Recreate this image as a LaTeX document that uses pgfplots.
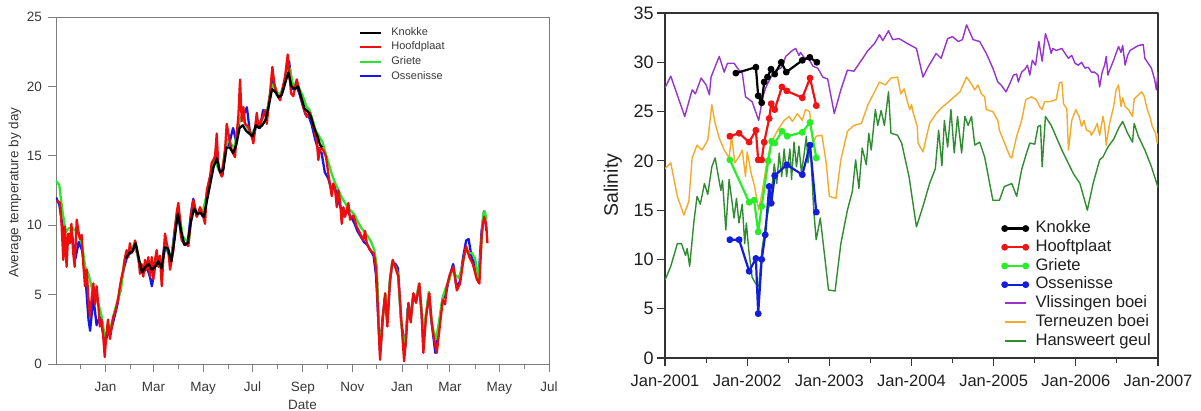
\documentclass[border=0pt]{standalone}
\usepackage{fontspec}
\setmainfont{Liberation Sans}
\usepackage{pgfplots}
\pgfplotsset{compat=1.18}

% colours of the temperature panel
\definecolor{tred}{RGB}{238,12,12}
\definecolor{tgreen}{RGB}{45,228,45}
\definecolor{tblue}{RGB}{22,22,232}
% colours of the salinity panel
\definecolor{sred}{RGB}{240,20,20}
\definecolor{sgreen}{RGB}{40,238,40}
\definecolor{sblue}{RGB}{18,30,220}
\definecolor{vpurple}{RGB}{150,52,205}
\definecolor{torange}{RGB}{244,170,42}
\definecolor{hgreen}{RGB}{48,140,48}
\definecolor{framegray}{RGB}{125,125,125}

% daily mean water temperature, day 0 = 1 November
\pgfplotstableread{
d v
1 11.8
5 11.6
7 9.9
9 7.5
11 9.9
13 7.0
15 9.4
17 8.7
19 10.1
21 8.1
23 7.0
25.5 10.4
27.5 9.6
29.5 9.0
31.6 9.3
33.6 7.2
35.7 5.6
37.8 6.8
39.8 4.8
41.9 3.4
44 4.8
46 5.8
48 4.3
50 5.6
52 4.3
54 2.7
56 3.2
58 2.1
60 0.5
62 2.1
64 3.2
66.5 1.8
68.6 2.7
70.6 3.4
72.7 3.7
74.8 4.2
76.7 4.8
78.8 5.6
80.9 6.3
82.9 6.8
85 7.7
87 8.2
89 7.7
91 8.7
93 8.0
95 8.2
97.3 8.9
99.4 8.4
101.4 7.7
103.4 6.5
105.5 7.2
107.5 6.3
109.6 7.5
111.7 6.8
113.7 7.7
115.8 6.3
117.9 7.7
119.8 6.1
121.9 7.5
124 8.2
126 7.0
128 7.8
130.2 5.6
132.1 7.5
134.2 9.4
136.3 8.7
138.3 8.2
140.4 6.8
142.5 7.5
144.5 8.2
146.5 9.7
148.6 10.9
150.6 11.6
152.7 10.4
154.8 8.9
158.9 8.7
163 8.5
167.1 11.1
169.1 11.8
173.3 10.6
177.3 11.3
181.4 10.6
183.5 10.1
185.6 12.5
189.7 13.5
191.7 14.5
195.8 14.9
197.9 16.6
199.9 14.2
204 13.5
208.1 15.4
210.2 17.3
214.3 15.9
216.4 15.4
220.4 14.9
222.5 16.6
224.5 17.8
226.6 20.5
228.7 17.5
230.7 18.5
232.8 17.3
236.8 17.1
241 16.4
243 15.9
247.2 18.1
249.1 17.1
253.3 17.6
257.4 18.3
259.5 17.3
263.5 19.5
266.4 21.4
268.8 20.2
271.8 19.5
275.9 19.0
278.7 19.8
282 20.7
285.3 22.3
286.9 21.2
289.4 19.5
292.2 19.3
296.4 20.5
300.5 19.5
304.6 18.5
308.7 17.8
312.8 18.1
316.9 17.1
321 16.1
323 14.7
325.1 15.6
329.2 15.4
332.5 14.9
335.3 13.7
339.5 12.1
341.5 13.0
343.6 12.6
345.7 11.3
347.7 12.5
349.8 11.7
351.8 10.1
353.8 11.3
355.9 10.6
360 11.6
362 10.4
366.1 10.7
370.3 9.9
374.4 9.4
378.4 8.9
380.5 9.6
382.6 8.7
386.7 8.2
390.8 8.0
392.8 7.5
394.9 6.1
396.9 3.0
399 0.3
402.3 3.2
405.2 5.1
408 2.7
411.3 6.1
414.6 7.5
417.5 7.0
421.5 6.3
425.7 2.7
428.6 0.2
431 1.8
433.9 4.4
436.8 3.0
440 5.1
443.3 4.4
447.4 5.8
450.4 3.4
452.3 0.8
455.6 3.4
459.7 5.1
462.7 2.9
465.5 1.8
468.8 0.8
472.9 2.9
476.2 4.6
479 4.3
481.2 5.6
485.2 6.5
489.3 7.0
493.5 5.3
497.5 5.8
501.6 7.5
504.9 8.5
509 7.7
513.2 7.2
518.1 6.1
521.3 5.8
524.3 9.4
527.1 10.6
529.6 10.1
531.2 8.7
}\hoofdplaat

\pgfplotstableread{
d v
0 13.2
4 12.9
8 11.0
12 9.5
16 9.8
20 9.8
24 9.6
28 9.3
32 8.6
36 7.0
40 6.5
44 5.5
48 5.0
52 4.4
56 3.5
60 2.0
64 2.4
68 2.8
72 3.8
76 4.6
80 5.3
84 7.4
88 8.0
92 8.2
96 8.6
100 8.0
104 7.0
108 7.0
112 7.1
116 6.9
120 7.0
124 7.6
128 7.4
132 7.6
136 8.7
140 7.6
144 8.3
148 10.5
152 10.8
156 9.2
160 8.9
164 9.0
168 11.4
172 10.9
176 11.0
180 10.8
184 11.8
188 12.6
192 14.2
196 14.8
200 14.0
204 13.8
208 15.3
212 16.2
216 15.8
220 15.6
224 17.2
228 17.8
232 17.4
236 17.0
240 16.6
244 16.8
248 17.6
252 17.4
256 17.9
260 18.2
264 19.6
268 20.2
272 19.6
276 19.4
280 20.0
284 21.0
288 21.3
292 20.0
296 20.3
300 19.8
304 19.3
308 18.6
312 18.3
316 17.6
320 16.8
324 16.4
328 16.0
332 15.2
336 14.4
340 13.6
344 13.0
348 12.5
352 12.0
356 11.6
360 11.2
364 11.0
368 10.7
372 10.2
376 9.8
380 9.5
384 9.2
388 8.8
392 8.2
395 7.0
398 2.0
400 1.5
403 3.6
406 5.0
408 3.4
411 6.0
414 7.4
418 7.0
421 6.5
425 3.0
428 1.4
431 2.2
434 4.4
437 3.3
440 5.0
443 4.6
447 5.8
450 4.0
452 2.2
455 3.4
459 5.2
462 3.3
465 2.3
468 1.8
472 3.2
476 4.8
480 5.5
484 6.0
488 6.8
492 6.4
496 6.2
500 7.0
504 8.2
508 8.0
512 8.0
516 7.6
520 6.2
523 8.0
526 10.8
528 11.0
530 10.4
}\griete

\pgfplotstableread{
d v
0 12.0
4 11.5
8 10.0
12 8.6
16 8.8
20 9.2
24 7.6
28 8.8
32 8.2
36 6.5
40 3.2
42 2.4
46 4.8
50 2.8
54 3.4
58 2.2
60 1.5
64 2.2
68 2.5
72 3.4
76 4.4
80 5.8
84 7.0
88 7.8
92 8.0
96 8.5
100 8.0
104 6.8
108 6.6
112 7.0
116 6.2
118 5.6
122 7.0
126 7.4
130 7.0
134 8.8
138 8.0
142 7.6
146 9.6
150 11.2
154 9.2
158 8.6
162 8.6
166 10.8
169 11.9
173 10.7
177 11.0
181 10.6
185 12.0
189 13.3
193 14.2
197 15.4
201 14.0
205 13.6
209 15.8
213 15.8
218 17.0
222 16.0
226 17.6
230 17.8
235 18.5
239 16.6
243 16.2
247 17.4
251 17.0
255 18.3
259 17.8
263 19.2
267 20.4
271 19.6
275 19.2
279 19.6
283 20.6
287 21.8
291 19.8
295 20.2
299 19.6
303 18.8
307 18.0
311 17.9
315 17.2
319 16.2
323 15.4
327 15.2
331 13.8
335 13.4
339 12.6
343 12.8
347 11.8
351 11.2
355 10.8
359 11.0
363 10.6
367 10.2
371 9.6
375 9.2
379 8.8
383 8.6
387 8.2
391 7.8
394 6.4
397 3.0
399 0.8
402 3.3
405 4.8
408 3.0
411 5.8
414 7.3
418 7.2
421 6.9
425 3.0
430 1.2
433 4.0
436 3.2
440 5.0
443 4.5
447 5.6
450 3.8
452 1.6
456 3.6
459 5.0
462 3.2
465 1.8
467 0.8
472 3.0
476 4.7
480 5.0
484 6.2
489 7.2
493 5.6
497 5.9
501 7.6
505 8.9
508 9.0
512 7.6
516 7.2
520 5.9
524 9.6
527 11.0
530 9.6
}\ossenisse

\pgfplotstableread{
d v
86 7.6
90 8.0
94 8.1
98 8.7
102 7.6
106 6.6
110 7.0
114 7.2
118 6.8
122 7.0
126 7.4
130 6.9
134 8.4
138 8.3
142 7.4
146 9.0
150 10.8
154 9.6
158 8.6
162 8.7
166 10.2
170 11.2
174 10.8
178 10.9
182 10.6
186 11.8
190 13.0
194 14.2
198 14.8
202 13.8
206 14.0
210 15.6
214 15.6
218 15.2
222 15.8
226 17.0
230 17.2
234 16.8
238 16.6
242 16.4
246 17.2
250 17.0
254 17.2
258 17.6
262 18.6
266 19.8
270 19.6
274 19.2
278 19.4
282 20.2
286 21.0
290 20.0
294 19.8
298 20.0
302 19.2
306 18.4
310 18.2
314 17.8
318 17.0
322 16.4
325 15.8
328 15.6
}\knokke

% salinity, time in decimal years
\pgfplotstableread{
t s
2001.00 27.4
2001.07 28.6
2001.24 24.5
2001.33 27.2
2001.37 26.8
2001.44 28.4
2001.50 27.7
2001.54 26.7
2001.56 28.5
2001.66 30.6
2001.72 29.0
2001.76 29.9
2001.84 29.9
2001.90 29.2
2001.94 28.9
2001.98 26.5
2002.06 26.0
2002.14 24.1
2002.19 26.5
2002.23 27.5
2002.29 28.5
2002.35 29.2
2002.41 29.4
2002.47 30.6
2002.55 31.2
2002.59 31.4
2002.63 30.7
2002.65 31.0
2002.70 30.4
2002.74 30.5
2002.80 29.6
2002.86 29.4
2002.92 28.5
2002.98 28.3
2003.06 24.8
2003.14 27.2
2003.22 29.2
2003.30 29.1
2003.39 30.2
2003.47 31.2
2003.55 31.9
2003.61 32.8
2003.65 32.2
2003.72 33.2
2003.77 32.3
2003.85 32.4
2003.95 31.9
2004.06 31.4
2004.14 28.5
2004.20 29.5
2004.30 30.9
2004.36 30.4
2004.44 32.4
2004.50 32.6
2004.57 32.1
2004.62 32.3
2004.67 33.8
2004.75 32.3
2004.83 32.1
2004.91 30.9
2004.99 29.4
2005.05 28.0
2005.09 27.7
2005.15 27.0
2005.20 27.9
2005.24 28.7
2005.28 28.8
2005.30 28.0
2005.34 29.0
2005.38 29.3
2005.41 29.7
2005.44 28.7
2005.47 30.2
2005.51 29.7
2005.55 32.1
2005.59 30.1
2005.63 32.9
2005.67 31.9
2005.70 30.9
2005.72 31.4
2005.76 31.2
2005.83 31.4
2005.87 30.9
2005.91 30.4
2005.95 30.7
2005.99 29.9
2006.03 29.7
2006.07 30.0
2006.11 29.4
2006.15 29.5
2006.19 29.0
2006.23 29.0
2006.27 28.7
2006.29 27.5
2006.32 29.0
2006.35 29.7
2006.37 30.6
2006.39 28.7
2006.42 29.4
2006.46 30.2
2006.48 30.7
2006.52 31.6
2006.55 31.0
2006.57 31.7
2006.60 29.7
2006.63 30.7
2006.66 31.2
2006.70 31.4
2006.76 31.7
2006.82 31.8
2006.84 30.4
2006.88 29.9
2006.92 29.4
2006.96 28.2
2006.98 27.2
2007.00 29.0
}\vlissingen

\pgfplotstableread{
t s
2001.00 19.2
2001.07 19.8
2001.15 16.4
2001.23 14.5
2001.29 15.9
2001.33 20.3
2001.39 21.6
2001.45 21.1
2001.52 22.1
2001.57 25.7
2001.61 23.8
2001.66 22.3
2001.72 21.1
2001.78 20.3
2001.81 22.5
2001.85 19.8
2001.90 20.4
2001.94 21.1
2001.98 18.4
2002.00 20.9
2002.05 18.7
2002.09 17.4
2002.14 15.0
2002.18 16.7
2002.23 19.4
2002.29 21.8
2002.37 23.1
2002.45 24.1
2002.51 24.5
2002.55 24.0
2002.61 24.8
2002.67 24.1
2002.71 25.2
2002.76 25.0
2002.80 21.8
2002.84 22.5
2002.91 22.6
2002.96 19.9
2003.00 16.4
2003.08 16.2
2003.14 20.1
2003.22 23.0
2003.30 23.6
2003.39 23.8
2003.47 25.7
2003.55 27.0
2003.61 28.0
2003.68 27.7
2003.75 28.4
2003.83 28.5
2003.87 26.8
2003.91 27.3
2003.95 26.0
2003.98 25.2
2004.00 25.7
2004.02 24.9
2004.07 23.5
2004.08 21.8
2004.14 20.9
2004.22 23.8
2004.30 24.8
2004.38 25.5
2004.44 25.9
2004.52 26.5
2004.59 27.0
2004.67 28.5
2004.73 27.8
2004.77 27.2
2004.81 27.7
2004.85 26.8
2004.89 26.5
2004.91 25.2
2004.99 25.0
2005.05 24.1
2005.07 23.1
2005.20 20.4
2005.22 20.3
2005.28 22.5
2005.34 24.1
2005.39 26.2
2005.46 26.5
2005.52 26.2
2005.56 25.5
2005.59 25.2
2005.62 26.0
2005.68 26.0
2005.76 26.2
2005.80 27.9
2005.83 28.0
2005.85 25.8
2005.89 25.3
2005.91 21.1
2005.95 24.1
2006.00 25.2
2006.04 24.5
2006.07 23.5
2006.10 24.1
2006.13 23.1
2006.17 23.0
2006.19 22.6
2006.23 23.2
2006.26 23.8
2006.29 22.6
2006.33 24.5
2006.35 23.6
2006.37 21.6
2006.41 23.8
2006.46 25.5
2006.49 27.2
2006.52 27.7
2006.55 25.5
2006.57 26.4
2006.60 25.5
2006.64 25.2
2006.69 24.5
2006.71 26.3
2006.75 26.6
2006.80 27.0
2006.83 26.6
2006.87 25.2
2006.90 24.5
2006.93 23.5
2006.97 22.8
2006.99 21.8
2007.00 22.8
}\terneuzen

\pgfplotstableread{
t s
2001.00 7.9
2001.07 9.3
2001.15 11.6
2001.20 11.6
2001.25 10.4
2001.27 11.1
2001.30 9.3
2001.35 13.7
2001.39 16.4
2001.43 15.6
2001.48 17.7
2001.52 16.6
2001.57 19.4
2001.61 20.3
2001.65 18.4
2001.68 17.0
2001.70 18.0
2001.74 13.0
2001.78 18.1
2001.81 16.2
2001.84 14.2
2001.87 16.2
2001.90 13.7
2001.94 15.6
2001.97 11.6
2001.99 13.7
2002.02 10.9
2002.06 8.2
2002.10 7.6
2002.14 7.2
2002.18 11.0
2002.23 13.8
2002.29 16.4
2002.33 19.7
2002.36 17.7
2002.39 20.8
2002.42 18.4
2002.45 21.2
2002.48 18.4
2002.52 21.2
2002.54 18.1
2002.57 21.9
2002.60 19.4
2002.63 21.5
2002.66 18.8
2002.69 20.5
2002.72 22.5
2002.74 19.8
2002.77 21.3
2002.81 15.0
2002.84 12.0
2002.89 14.2
2002.99 6.9
2003.07 6.8
2003.14 11.6
2003.22 15.0
2003.28 16.9
2003.32 20.1
2003.36 17.2
2003.40 21.3
2003.45 19.6
2003.48 22.8
2003.51 21.1
2003.56 25.2
2003.59 23.6
2003.63 25.1
2003.67 23.6
2003.72 27.0
2003.75 22.8
2003.83 22.6
2003.88 21.8
2003.97 18.4
2004.06 13.3
2004.14 15.4
2004.22 17.7
2004.29 19.2
2004.33 23.1
2004.37 19.5
2004.40 24.1
2004.44 21.4
2004.48 25.2
2004.52 20.8
2004.56 24.5
2004.61 20.8
2004.65 24.5
2004.69 23.6
2004.73 24.5
2004.77 21.6
2004.83 21.9
2004.89 20.4
2004.99 16.0
2005.07 16.0
2005.13 17.4
2005.22 17.7
2005.28 16.4
2005.34 19.1
2005.40 20.8
2005.44 21.8
2005.50 21.7
2005.54 23.5
2005.57 23.6
2005.59 19.4
2005.63 24.5
2005.70 23.6
2005.83 21.1
2005.97 18.7
2006.05 17.7
2006.14 15.0
2006.21 17.7
2006.29 20.1
2006.33 20.4
2006.39 21.4
2006.46 22.2
2006.52 23.3
2006.57 24.0
2006.63 22.8
2006.69 21.9
2006.71 23.8
2006.76 22.5
2006.84 21.1
2006.92 19.4
2007.00 17.3
}\hansweert

\pgfplotstableread{
t s
2001.862 28.9
2002.106 29.5
2002.134 26.6
2002.177 25.9
2002.207 28.0
2002.248 28.5
2002.290 29.3
2002.335 28.8
2002.415 30.0
2002.476 29.0
2002.671 30.2
2002.762 30.5
2002.848 30.0
}\knokkeS

\pgfplotstableread{
t s
2001.789 22.5
2001.902 22.8
2002.024 21.9
2002.106 23.1
2002.134 20.1
2002.177 20.1
2002.207 21.9
2002.268 24.3
2002.293 25.8
2002.335 25.2
2002.423 27.5
2002.482 27.1
2002.671 26.4
2002.765 28.4
2002.841 25.6
}\hoofdplaatS

\pgfplotstableread{
t s
2001.789 20.1
2002.024 15.8
2002.085 16.0
2002.134 12.8
2002.177 15.4
2002.256 20.0
2002.297 22.0
2002.335 21.8
2002.423 23.0
2002.488 22.5
2002.671 22.9
2002.765 23.9
2002.841 20.3
}\grieteS

\pgfplotstableread{
t s
2001.789 12.0
2001.902 12.0
2002.024 8.8
2002.106 10.1
2002.134 4.5
2002.177 10.0
2002.220 12.5
2002.268 17.4
2002.293 15.7
2002.335 18.5
2002.482 19.6
2002.671 18.6
2002.765 21.6
2002.841 14.8
}\ossenisseS

\begin{document}
\begin{tikzpicture}
\useasboundingbox (0pt,0pt) rectangle (1201pt,410pt);

% ---------------- temperature ----------------
\begin{axis}[
  at={(56pt,46pt)}, anchor=south west,
  scale only axis, width=493pt, height=347pt,
  xmin=0, xmax=607, ymin=0, ymax=25,
  axis line style={framegray, line width=0.9pt},
  tick style={framegray, line width=0.9pt},
  tick align=outside, xtick pos=left, ytick pos=left,
  major tick length=8pt, minor tick length=4.5pt,
  xtick={61,120,181,242,304,365,426,485,546,607},
  xticklabels={Jan,Mar,May,Jul,Sep,Nov,Jan,Mar,May,Jul},
  minor xtick={30,92,151,212,273,334,395,457,516,577},
  ytick={0,5,10,15,20,25},
  /pgf/number format/assume math mode=true,
  tick label style={font=\fontsize{13.5}{16}\selectfont, text=black!78},
  xticklabel style={yshift=-6.5pt},
  yticklabel style={xshift=-2.5pt},
  xlabel={Date},
  ylabel={Average temperature by day},
  label style={font=\fontsize{13.5}{16}\selectfont, text=black!78},
  xlabel style={at={(axis description cs:0.5,-0.118)}, anchor=center},
  ylabel style={at={(axis description cs:-0.0832,0.494)}, anchor=center},
  legend style={at={(rel axis cs:0.615,0.9735)}, anchor=north west,
    draw=none, fill=none, inner sep=0pt,
    font=\fontsize{11}{13}\selectfont, text=black!78,
    nodes={inner sep=1pt, text height=8pt, text depth=2.5pt},
    row sep=2.1pt, column sep=8pt},
  legend cell align=left,
  legend image code/.code={\draw[#1, line width=2pt] (0pt,0pt) -- (21pt,0pt);},
  reverse legend,
  every axis plot/.append style={line width=2.3pt, line join=round},
]
\addplot[tblue] table[x=d, y=v] {\ossenisse};
\addlegendentry{Ossenisse}
\addplot[tgreen] table[x=d, y=v] {\griete};
\addlegendentry{Griete}
\addplot[tred] table[x=d, y=v] {\hoofdplaat};
\addlegendentry{Hoofdplaat}
\addplot[black] table[x=d, y=v] {\knokke};
\addlegendentry{Knokke}
\end{axis}

% ---------------- salinity ----------------
\begin{axis}[
  at={(665pt,52pt)}, anchor=south west,
  scale only axis, width=493pt, height=345pt,
  xmin=2001, xmax=2007, ymin=0, ymax=35,
  axis line style={black!80, line width=1.1pt},
  tick style={black!80, line width=1.1pt},
  tick align=outside, xtick pos=left, ytick pos=left,
  major tick length=8pt, minor tick length=4.5pt,
  xtick={2001,2002,2003,2004,2005,2006,2007},
  xticklabels={Jan-2001,Jan-2002,Jan-2003,Jan-2004,Jan-2005,Jan-2006,Jan-2007},
  minor xtick={2001.5,2002.5,2003.5,2004.5,2005.5,2006.5},
  ytick={0,5,10,15,20,25,30,35},
  /pgf/number format/assume math mode=true,
  xticklabel style={font=\fontsize{16.5}{19}\selectfont, text=black!88, yshift=-5pt},
  yticklabel style={font=\fontsize{18}{21}\selectfont, text=black!88},
  ylabel={Salinity},
  ylabel style={font=\fontsize{19.5}{23}\selectfont, text=black!88,
    at={(axis description cs:-0.106,0.501)}, anchor=center},
  legend style={at={(rel axis cs:0.684,0.3997)}, anchor=north west,
    draw=none, fill=none, inner sep=0pt,
    font=\fontsize{16.6}{19}\selectfont, text=black!88,
    nodes={inner sep=0.5pt, text height=12pt, text depth=3.5pt},
    row sep=2.2pt, column sep=7pt},
  legend cell align=left,
  legend image code/.code={\draw[#1] plot coordinates {(0pt,0pt) (21pt,0pt)};},
  line join=round,
]
% long-term buoy records
\addplot[vpurple, line width=1.4pt, forget plot] table[x=t, y=s] {\vlissingen};
\addplot[torange, line width=1.4pt, forget plot] table[x=t, y=s] {\terneuzen};
\addplot[hgreen, line width=1.4pt, forget plot] table[x=t, y=s] {\hansweert};
% station samples
\addplot[black, line width=2.2pt, mark=*, mark size=2.3pt, forget plot] table[x=t, y=s] {\knokkeS};
\addplot[sred, line width=2.2pt, mark=*, mark size=2.3pt, forget plot] table[x=t, y=s] {\hoofdplaatS};
\addplot[sgreen, line width=2.2pt, mark=*, mark size=2.3pt, forget plot] table[x=t, y=s] {\grieteS};
\addplot[sblue, line width=2.2pt, mark=*, mark size=2.3pt, forget plot] table[x=t, y=s] {\ossenisseS};
\addlegendimage{black, line width=2.2pt, mark=*, mark size=2.3pt}
\addlegendentry{Knokke}
\addlegendimage{sred, line width=2.2pt, mark=*, mark size=2.3pt}
\addlegendentry{Hooftplaat}
\addlegendimage{sgreen, line width=2.2pt, mark=*, mark size=2.3pt}
\addlegendentry{Griete}
\addlegendimage{sblue, line width=2.2pt, mark=*, mark size=2.3pt}
\addlegendentry{Ossenisse}
\addlegendimage{draw=vpurple, line width=1.8pt}
\addlegendentry{Vlissingen boei}
\addlegendimage{draw=torange, line width=1.8pt}
\addlegendentry{Terneuzen boei}
\addlegendimage{draw=hgreen, line width=1.8pt}
\addlegendentry{Hansweert geul}
\end{axis}
\end{tikzpicture}
\end{document}
